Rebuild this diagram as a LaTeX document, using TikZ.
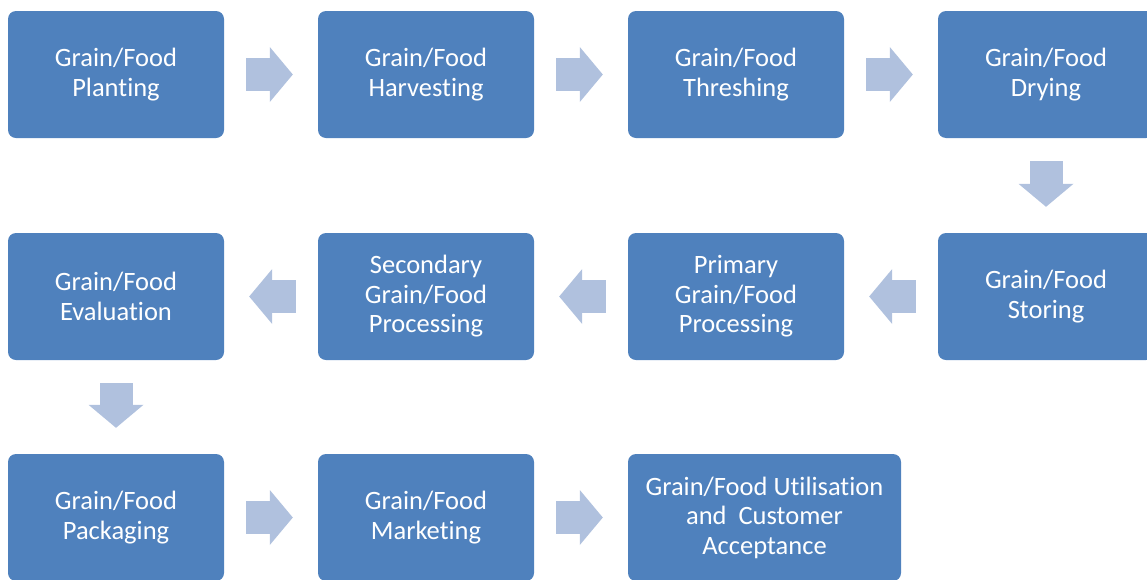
\documentclass[tikz,border=0pt]{standalone}
\usepackage{fontspec}
\setmainfont{Carlito}[Ligatures={NoCommon}]
\usepackage{tikz}
\usetikzlibrary{arrows.meta}
\definecolor{boxblue}{HTML}{4F81BD}
\definecolor{arrowblue}{HTML}{B0C1DE}
\tikzset{
    stagebox/.style={rectangle, rounded corners=8pt, fill=boxblue, text=white, minimum width=216pt, minimum height=127pt, inner sep=0pt, align=center, font=\fontsize{26.5}{29.5}\selectfont},
    widebox/.style={stagebox, minimum width=273pt},
    flowarrow/.style={line width=33pt, draw=arrowblue, -{Triangle[length=23pt,width=55pt,line width=0pt]}, shorten <=22pt, shorten >=25pt},
    flowdown/.style={flowarrow, shorten <=23pt, shorten >=26pt}
}

\begin{document}
\begin{tikzpicture}[x=1pt, y=-1pt]
    \useasboundingbox (0,0) rectangle (1147,579);
    \clip (0,0) rectangle (1147,579);
    \node[stagebox] (plant) at (116,74.5) {Grain/Food\\Planting};
    \node[stagebox] (harvest) at (426,74.5) {Grain/Food\\Harvesting};
    \node[stagebox] (thresh) at (736,74.5) {Grain/Food\\Threshing};
    \node[stagebox] (dry) at (1046,74.5) {Grain/Food\\Drying};
    \node[stagebox] (store) at (1046,296.5) {Grain/Food\\Storing};
    \node[stagebox] (primary) at (736,296.5) {Primary\\Grain/Food\\Processing};
    \node[stagebox] (secondary) at (426,296.5) {Secondary\\Grain/Food\\Processing};
    \node[stagebox] (evaluate) at (116,296.5) {Grain/Food\\Evaluation};
    \node[stagebox] (pack) at (116,517.5) {Grain/Food\\Packaging};
    \node[stagebox] (market) at (426,517.5) {Grain/Food\\Marketing};
    \node[widebox] (utilise) at (764.5,517.5) {Grain/Food Utilisation\\and\ \ Customer\\Acceptance};

    % Top row, left to right
    \draw[flowarrow] (plant) -- (harvest);
    \draw[flowarrow] (harvest) -- (thresh);
    \draw[flowarrow] (thresh) -- (dry);
    \draw[flowdown] (dry) -- (store);

    % Middle row, right to left
    \draw[flowarrow] (store) -- (primary);
    \draw[flowarrow] (primary) -- (secondary);
    \draw[flowarrow] (secondary) -- (evaluate);
    \draw[flowdown] (evaluate) -- (pack);

    % Bottom row
    \draw[flowarrow] (pack) -- (market);
    \draw[flowarrow] (market) -- (utilise);
\end{tikzpicture}
\end{document}
